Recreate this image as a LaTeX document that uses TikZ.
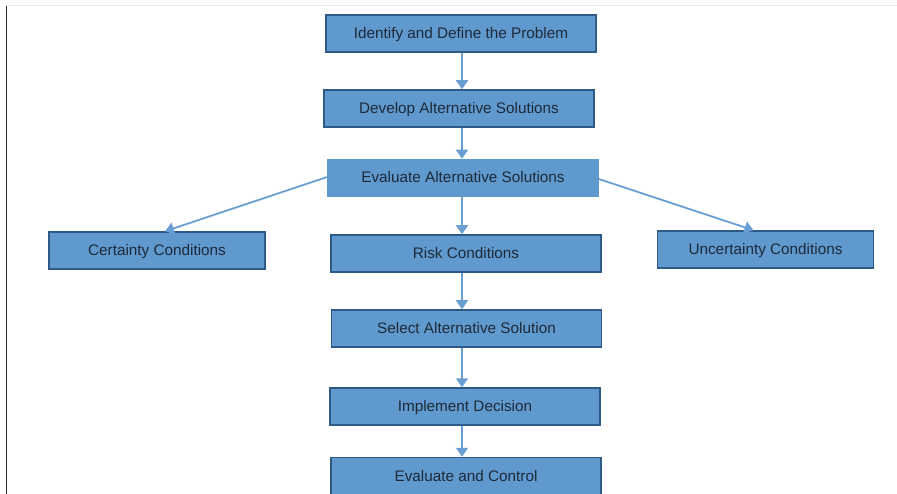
\documentclass[tikz,border=0pt]{standalone}
\usepackage{fontspec}
\setmainfont{Liberation Sans}
\usetikzlibrary{arrows.meta}
\definecolor{boxfill}{HTML}{5F99CE}
\definecolor{boxline}{HTML}{2E5A88}
\definecolor{arrowc}{HTML}{6A9FD4}
\definecolor{txt}{HTML}{1E2A38}
\tikzset{
  box/.style={draw=boxline, line width=1.5pt, fill=boxfill, text=txt, minimum width=270pt, minimum height=37pt, inner sep=0pt, text height=11pt, text depth=1pt, font=\fontsize{15.3}{18}\selectfont},
  sidebox/.style={box, minimum width=216pt},
  flow/.style={draw=arrowc, line width=1.8pt, -{Triangle[width=12pt,length=9pt]}}
}
\begin{document}
\begin{tikzpicture}[x=1pt,y=-1pt]
\useasboundingbox (0,0) rectangle (897,494);
\fill[white] (0,0) rectangle (897,494);
\draw[black!85, line width=1pt] (6,5) -- (6,494);
\draw[black!8, line width=0.8pt] (6,5) -- (897,5);
\node[box] (idp) at (461,33.5) {Identify and Define the Problem};
\node[box] (das) at (459,108.5) {Develop Alternative Solutions};
\node[box, draw=boxfill] (eas) at (463,178) {Evaluate Alternative Solutions};
\node[sidebox] (cc) at (157,250.5) {Certainty Conditions};
\node[box] (rc) at (466,253.5) {Risk Conditions};
\node[sidebox] (uc) at (765.5,249.5) {Uncertainty Conditions};
\node[box] (sas) at (466.5,328.5) {Select Alternative Solution};
\node[box] (imd) at (465,406.5) {Implement Decision};
\node[box] (eac) at (466,476) {Evaluate and Control};
\coordinate (t1) at (462,0);
\draw[flow] (idp.south -| t1) -- (das.north -| t1);
\draw[flow] (das.south -| t1) -- (eas.north -| t1);
\draw[flow] (eas.south -| t1) -- (rc.north -| t1);
\draw[flow] (rc.south -| t1) -- (sas.north -| t1);
\draw[flow] (sas.south -| t1) -- (imd.north -| t1);
\draw[flow] (imd.south -| t1) -- (eac.north -| t1);
\draw[flow] ([yshift=1pt]eas.west) -- ([xshift=8pt]cc.north);
\draw[flow] ([yshift=-1pt]eas.east) -- ([xshift=-12pt]uc.north);
\end{tikzpicture}
\end{document}
